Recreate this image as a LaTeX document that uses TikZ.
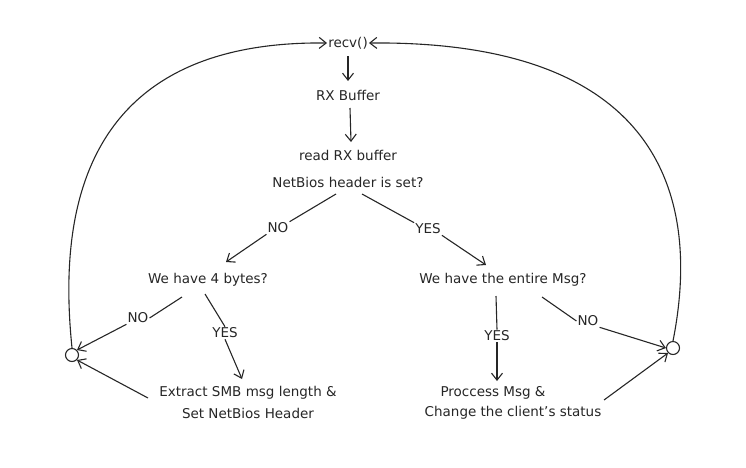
\documentclass[tikz,border=0pt]{standalone}
\usepackage{fontspec}
\setmainfont{DejaVu Sans}
\usetikzlibrary{arrows.meta}
\begin{document}
\begin{tikzpicture}[x=1pt,y=-1pt,
  lbl/.style={font=\fontsize{13.5}{15}\selectfont, inner sep=1pt, text=black!85},
  arr/.style={draw=black!85, line width=1.1pt, -{Straight Barb[length=7pt,width=11pt]}},
  ln/.style={draw=black!85, line width=1.1pt},
  circ/.style={circle, draw=black!85, line width=1.1pt, minimum size=13pt, inner sep=0pt}]
\useasboundingbox (0,0) rectangle (746,467);
\node[lbl] (recv) at (348,43) {recv()};
\node[lbl] (rx) at (348,95) {RX Buffer};
\node[lbl] (read) at (348,155) {read RX buffer};
\node[lbl] (nb) at (348,182) {NetBios header is set?};
\node[lbl] (no1) at (278,228) {NO};
\node[lbl] (yes1) at (428,229) {YES};
\node[lbl] (four) at (208,280) {We have 4 bytes?};
\node[lbl] (ent) at (503,280) {We have the entire Msg?};
\node[lbl] (no2) at (138,318) {NO};
\node[lbl] (yes2) at (225,333) {YES};
\node[lbl] (no3) at (588,321) {NO};
\node[lbl] (yes3) at (497,336) {YES};
\node[circ] (cl) at (72,355) {};
\node[circ] (cr) at (673,348) {};
\node[lbl] (ex1) at (248,393) {Extract SMB msg length \&};
\node[lbl] (ex2) at (248,413) {Set NetBios Header};
\node[lbl] (pr1) at (493,393) {Proccess Msg \&};
\node[lbl] (pr2) at (513,413) {Change the client's status};
\coordinate (a1) at (348,56); \coordinate (a2) at (348,81);
\draw[arr] (a1) -- (a2);
\coordinate (b1) at (350,108); \coordinate (b2) at (351,142);
\draw[arr] (b1) -- (b2);
\coordinate (c1) at (336,194); \coordinate (c2) at (226,262);
\draw[ln] (c1) -- (no1.north east);
\draw[arr] (no1.south west) -- (c2);
\coordinate (d1) at (362,194); \coordinate (d2) at (486,265);
\draw[ln] (d1) -- (yes1.north west);
\draw[arr] (yes1.south east) -- (d2);
\coordinate (e1) at (205,294);
\draw[ln] (e1) -- (yes2.north);
\coordinate (e2) at (242,379);
\draw[arr] (yes2.south) -- (e2);
\coordinate (f1) at (182,297);
\draw[ln] (f1) -- (no2.east);
\draw[arr] (no2.south west) -- (cl.north east);
\coordinate (g1) at (496,296);
\draw[ln] (g1) -- (yes3.north);
\coordinate (g2) at (497,381);
\draw[arr] (yes3.south) -- (g2);
\coordinate (h1) at (542,297);
\draw[ln] (h1) -- (no3.west);
\draw[arr] (no3.south east) -- (cr.west);
\draw[arr] (cl.north) .. controls (60,230) and (70,40) .. (recv.west);
\draw[arr] (cr.north) .. controls (695,230) and (690,40) .. (recv.east);
\coordinate (k1) at (148,398);
\draw[arr] (k1) -- (cl.south east);
\coordinate (m1) at (604,400);
\draw[arr] (m1) -- (cr.south west);
\end{tikzpicture}
\end{document}
